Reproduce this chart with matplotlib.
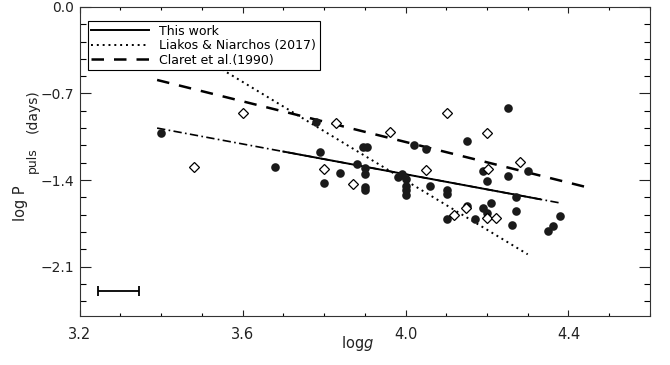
import matplotlib
matplotlib.use("Agg")
import matplotlib.pyplot as plt
import numpy as np
from matplotlib.ticker import MultipleLocator

plt.rcParams['font.family'] = ['DejaVu Sans']

# filled circles: this work
logg_dots = [3.400, 3.680, 3.781, 3.791, 3.801, 3.840, 3.881, 3.895, 3.906, 3.901, 3.901,
             3.901, 3.901, 3.981, 3.992, 4.000, 4.000, 4.000, 4.000, 4.020, 4.051, 4.061,
             4.101, 4.101, 4.101, 4.150, 4.151, 4.171, 4.190, 4.191, 4.200, 4.200, 4.210,
             4.251, 4.251, 4.261, 4.272, 4.272, 4.300, 4.351, 4.361, 4.380]
logp_dots = [-1.022, -1.297, -0.928, -1.171, -1.427, -1.340, -1.270, -1.130, -1.130, -1.305, -1.351,
             -1.454, -1.480, -1.378, -1.351, -1.394, -1.448, -1.480, -1.521, -1.117, -1.152, -1.446,
             -1.481, -1.513, -1.718, -1.084, -1.610, -1.718, -1.629, -1.324, -1.405, -1.664, -1.583,
             -0.820, -1.367, -1.764, -1.535, -1.648, -1.327, -1.810, -1.772, -1.688]

# open diamonds: literature
logg_dia = [3.480, 3.601, 3.800, 3.830, 3.871, 3.961, 4.051, 4.101, 4.120, 4.149, 4.200,
            4.201, 4.202, 4.221, 4.280]
logp_dia = [-1.292, -0.860, -1.308, -0.936, -1.432, -1.014, -1.319, -0.860, -1.683, -1.629, -1.710,
            -1.022, -1.313, -1.705, -1.251]

# linear relations: (intercept, slope, x start, x end)
fit_this = [1.095, -0.612, 3.39, 4.38]
fit_this_solid = [3.70, 4.33]
fit_liakos = [6.565, -1.992, 3.39, 4.30]
fit_claret = [2.196, -0.822, 3.39, 4.44]

# typical error bar
err_x, err_y, err_dx = 3.295, -2.30, 0.05


def line(fit, x0=None, x1=None):
    x = np.array([fit[2] if x0 is None else x0, fit[3] if x1 is None else x1])
    return x, fit[0] + fit[1] * x


fig = plt.figure(figsize=(6.7, 3.65), dpi=100)
ax = fig.add_axes([0.119, 0.134, 0.851, 0.847])

x, y = line(fit_this)
ax.plot(x, y, color='black', lw=1.2, ls=(0, (5, 2, 1, 2)))
x, y = line(fit_this, *fit_this_solid)
ax.plot(x, y, color='black', lw=1.4, label='This work')
x, y = line(fit_liakos)
ax.plot(x, y, color='black', lw=1.4, ls=(0, (1, 2)), label='Liakos & Niarchos (2017)')
x, y = line(fit_claret)
ax.plot(x, y, color='black', lw=1.8, ls=(0, (5, 4)), label='Claret et al.(1990)')

ax.plot(logg_dots, logp_dots, 'o', color='#1a1a1a', ms=6.2, mec='none')
ax.plot(logg_dia, logp_dia, 'D', mfc='white', mec='black', mew=0.9, ms=5)

ax.errorbar([err_x], [err_y], xerr=[err_dx], color='black', lw=1.3, capsize=3.5, capthick=1.3)

ax.set_xlim(3.2, 4.6)
ax.set_ylim(-2.5, 0.0)
ax.xaxis.set_minor_locator(MultipleLocator(0.1))
ax.yaxis.set_minor_locator(MultipleLocator(0.14))
ax.set_xticks([3.2, 3.6, 4.0, 4.4])
ax.set_xticklabels(['3.2', '3.6', '4.0', '4.4'])
ax.set_yticks([0.0, -0.7, -1.4, -2.1])
ax.set_yticklabels(['0.0', '\u22120.7', '\u22121.4', '\u22122.1'])
ax.tick_params(axis='x', which='major', direction='in', length=4.5, top=True, width=0.8,
               labelsize=10.5, pad=8, colors='#222222')
ax.tick_params(axis='x', which='minor', direction='in', length=2.5, top=True, width=0.8)
ax.tick_params(axis='y', which='major', direction='in', length=8, right=True, width=0.8,
               labelsize=10, pad=4, colors='#222222')
ax.tick_params(axis='y', which='minor', direction='in', length=4.5, right=True, width=0.8)
for s in ax.spines.values():
    s.set_linewidth(0.8)
    s.set_color('#333333')

leg = ax.legend(loc='upper left', bbox_to_anchor=(0.014, 0.955), borderaxespad=0,
                fontsize=9, handlelength=4.6, fancybox=False, framealpha=1,
                edgecolor='black', borderpad=0.3, labelspacing=0.12, handletextpad=0.8)
leg.get_frame().set_linewidth(0.8)

fig.text(0.533, 0.06, r'log$\it{g}$', ha='center', va='center', fontsize=10.5, color='#222222')
fig.text(0.030, 0.443, 'log P', rotation=90, ha='center', va='center', fontsize=10.5, color='#222222')
fig.text(0.049, 0.562, 'puls', rotation=90, ha='center', va='center', fontsize=9, color='#222222')
fig.text(0.049, 0.695, '(days)', rotation=90, ha='center', va='center', fontsize=10, color='#222222')

fig.savefig('out.png', dpi=100)
